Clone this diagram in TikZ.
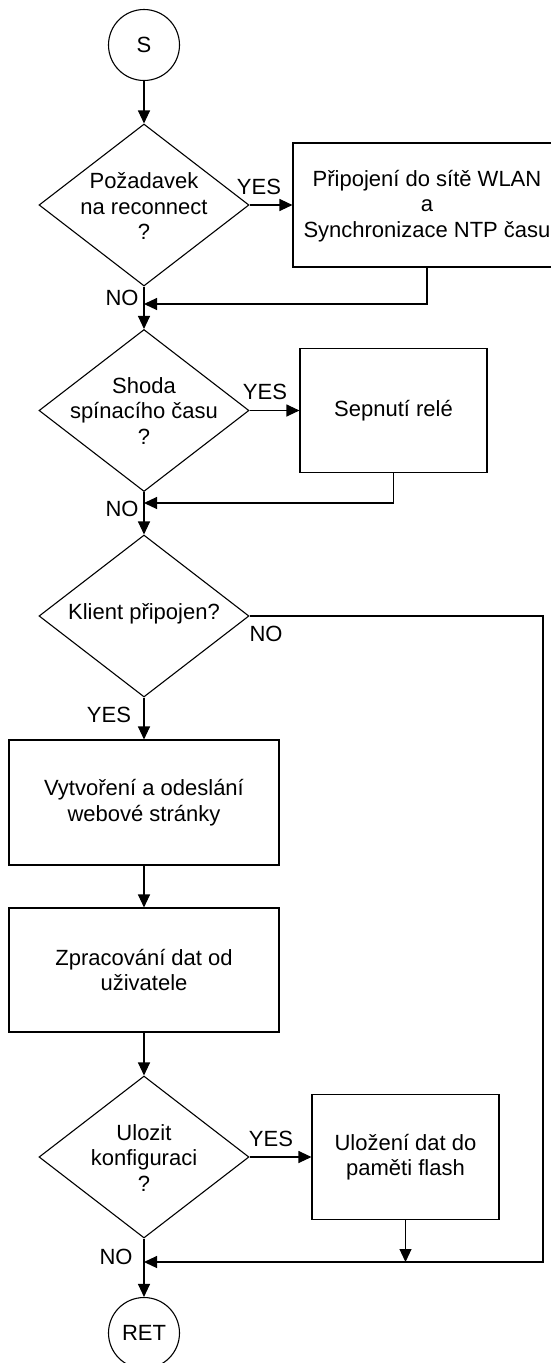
\documentclass[tikz,border=0pt]{standalone}
\usepackage{fontspec}
\setmainfont{Liberation Sans}
\usetikzlibrary{shapes.geometric,arrows.meta}
\begin{document}
\begin{tikzpicture}[x=1pt,y=-1pt,line width=1.1pt,
  every node/.style={font=\fontsize{22}{25.5}\selectfont},
  term/.style={circle,draw,minimum size=71pt,inner sep=0pt},
  dec/.style={diamond,draw,minimum width=210pt,minimum height=162pt,inner sep=0pt},
  proc/.style={rectangle,draw,inner sep=0pt},
  txt/.style={align=center,inner sep=0pt},
  lbl/.style={inner sep=0pt},
  arr/.style={-{Triangle[length=13pt,width=12pt]}}]
\useasboundingbox (0,0) rectangle (551,1363);
\clip (0,0) rectangle (551,1363);

% nodes
\node[term] (s) at (144,45) {S};
\node[dec] (d1) at (144,205) {};
\node[txt] (d1t) at (144,206) {Požadavek\\na reconnect\\?};
\node[proc,minimum width=268pt,minimum height=124pt] (b1) at (427,205) {};
\node[txt] (b1t) at (427,206) {Připojení do sítě WLAN\\a\\Synchronizace NTP času};

\node[dec] (d2) at (144,410.5) {};
\node[txt] (d2t) at (144,411) {Shoda\\spínacího času\\?};
\node[proc,minimum width=187pt,minimum height=124pt,txt] (b2) at (393.5,410.5) {Sepnutí relé};

\node[dec] (d3) at (144,616) {};
\node[txt] (d3t) at (144,614) {Klient připojen?};

\node[proc,minimum width=270pt,minimum height=125pt,txt] (b3) at (144,802.5) {Vytvoření a odeslání\\webové stránky};
\node[proc,minimum width=270pt,minimum height=124pt,txt] (b4) at (144,970) {Zpracování dat od\\uživatele};

\node[dec] (d4) at (144,1157) {};
\node[txt] (d4t) at (144,1158) {Ulozit\\konfiguraci\\?};
\node[proc,minimum width=187pt,minimum height=125pt,txt] (b5) at (405.5,1157) {Uložení dat do\\paměti flash};

\node[term] (ret) at (144,1333) {RET};

% merge coordinates
\coordinate (m1) at (144,304);
\coordinate (m2) at (144,503);
\coordinate (m4) at (144,1262);
\coordinate (c3) at (543,1262);

% labels
\node[lbl] (y1) at (259,187) {YES};
\node[lbl] (n1) at (122,298) {NO};
\node[lbl] (y2) at (265,392) {YES};
\node[lbl] (n2) at (122,509) {NO};
\node[lbl] (n3) at (266,634) {NO};
\node[lbl] (y3) at (109,715) {YES};
\node[lbl] (y4) at (271,1139) {YES};
\node[lbl] (n4) at (116,1257) {NO};

% connectors
\draw[arr] (s.south) -- (d1.north);
\draw[arr] (d1.east) -- (b1.west);
\draw[arr] (b1.south) |- (m1);
\draw[arr] (d1.south) -- (d2.north);
\draw[arr] (d2.east) -- (b2.west);
\draw[arr] (b2.south) |- (m2);
\draw[arr] (d2.south) -- (d3.north);
\draw[arr] (d3.south) -- (b3.north);
\draw[arr] (b3.south) -- (b4.north);
\draw[arr] (b4.south) -- (d4.north);
\draw[arr] (d4.east) -- (b5.west);
\draw[arr] (b5.south) -- (b5.south |- m4);
\draw[arr] (d3.east) -| (c3) -- (m4);
\draw[arr] (d4.south) -- (ret.north);
\end{tikzpicture}
\end{document}
